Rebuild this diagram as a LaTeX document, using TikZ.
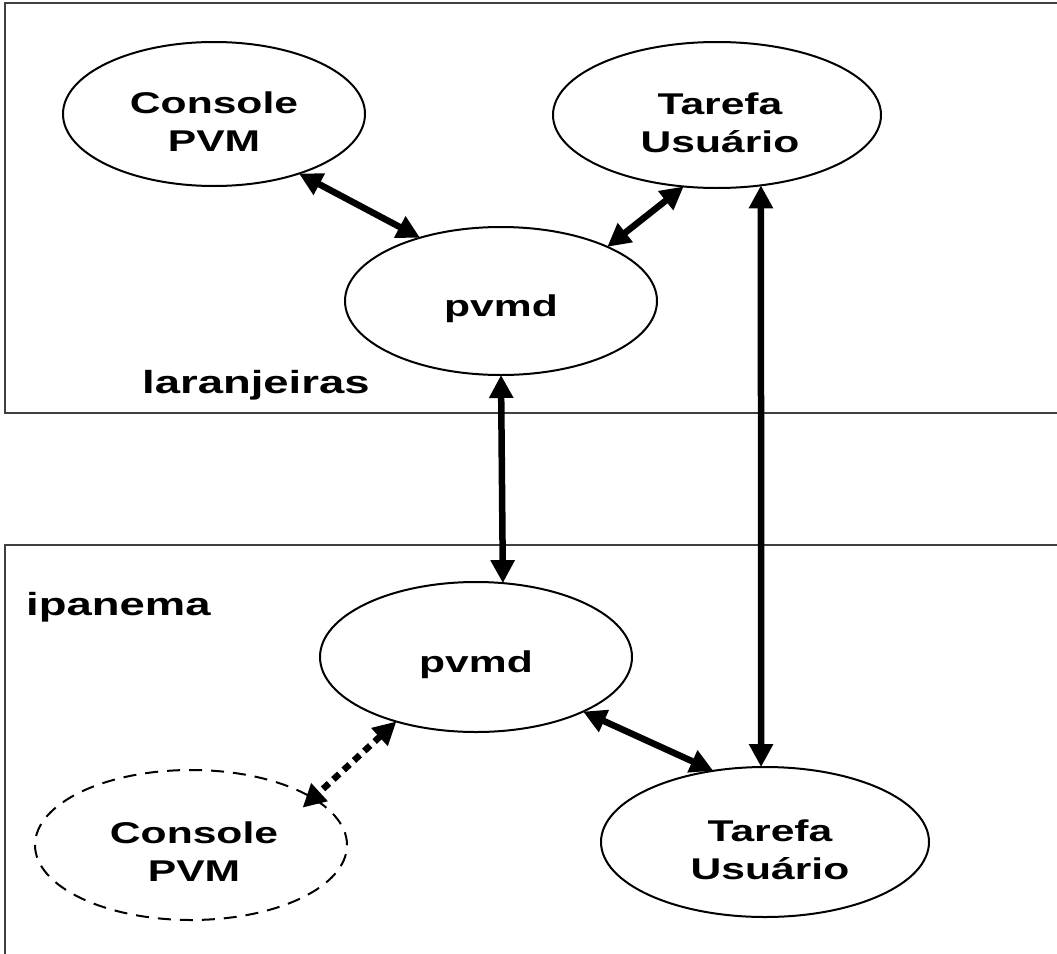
\documentclass[tikz,border=0pt]{standalone}
\usepackage{fontspec}
\newfontfamily\labfont{Liberation Sans}[FakeStretch=1.42]
\usetikzlibrary{arrows.meta,shapes.geometric}

\tikzset{
  host/.style={draw=black!75, line width=2pt},
  proc/.style={ellipse, draw, line width=2pt, inner sep=0pt, outer sep=0pt},
  optproc/.style={proc, dash pattern=on 13pt off 9pt},
  caption/.style={font=\labfont\bfseries\fontsize{30}{38}\selectfont, align=center, inner sep=0pt},
  hostname/.style={font=\labfont\bfseries\fontsize{32}{38}\selectfont, inner sep=0pt, anchor=base west},
  link/.style={line width=6.5pt, {Triangle[length=23pt,width=23pt]}-{Triangle[length=23pt,width=23pt]}},
  optlink/.style={link, dash pattern=on 8pt off 6pt}
}

\begin{document}
\begin{tikzpicture}[x=1pt, y=-1pt]
  \useasboundingbox (0,0) rectangle (1057,953);

  % host frames
  \draw[host] (1070,3) -- (5,3) -- (5,413) -- (1070,413);
  \draw[host] (1070,545) -- (5,545) -- (5,960);
  \node[hostname] (hostA) at (142,393) {laranjeiras};
  \node[hostname] (hostB) at (26,615) {ipanema};

  % processes on laranjeiras
  \node[proc, minimum width=302pt, minimum height=144pt] (consA) at (214,114) {};
  \node[proc, minimum width=328pt, minimum height=146pt] (taskA) at (717,115) {};
  \node[proc, minimum width=312pt, minimum height=148pt] (pvmdA) at (501,301) {};

  % processes on ipanema
  \node[proc, minimum width=312pt, minimum height=150pt] (pvmdB) at (476,657) {};
  \node[optproc, minimum width=312pt, minimum height=150pt] (consB) at (191,845) {};
  \node[proc, minimum width=328pt, minimum height=150pt] (taskB) at (765,842) {};

  % process names
  \node[caption] (consAtxt) at ([yshift=-8pt]consA.center) {Console\\PVM};
  \node[caption] (taskAtxt) at ([yshift=-8pt, xshift=3pt]taskA.center) {Tarefa\\Usuário};
  \node[caption] (pvmdAtxt) at ([yshift=-8pt]pvmdA.center) {pvmd};
  \node[caption] (pvmdBtxt) at ([yshift=-8pt]pvmdB.center) {pvmd};
  \node[caption] (consBtxt) at ([yshift=-7pt, xshift=3pt]consB.center) {Console\\PVM};
  \node[caption] (taskBtxt) at ([yshift=-8pt, xshift=5pt]taskB.center) {Tarefa\\Usuário};

  % message links
  \draw[link] (consA.-35.4) -- (pvmdA.142);
  \draw[link] (taskA.-115.4) -- (pvmdA.27.6);
  \draw[link] (pvmdA.south) -- (pvmdB.70.4);
  \draw[link] (taskA.-58.3) -- (taskB.93.8);
  \draw[link] (pvmdB.-27.6) -- (taskB.126.6);
  \draw[optlink, shorten >=-14pt] (pvmdB.-141) -- (consB.21.6);
\end{tikzpicture}
\end{document}
